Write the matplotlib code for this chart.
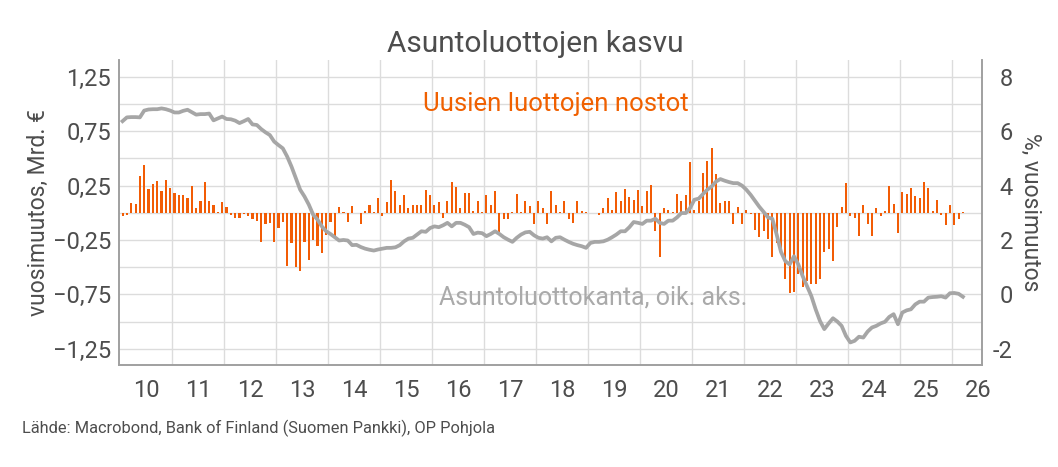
import numpy as np
import matplotlib.pyplot as plt

plt.rcParams['font.family'] = ['Roboto', 'DejaVu Sans']

# Uusien luottojen nostot, vuosimuutos Mrd. €, kuukausittain 1/2010 ->
new_loans = [
    -0.03, -0.02, 0.09, 0.08, 0.34, 0.44, 0.22, 0.265, 0.29, 0.20, 0.30, 0.23,      # 2010
    0.18, 0.16, 0.16, 0.14, 0.25, 0.04, 0.11, 0.28, 0.11, 0.07, 0.01, 0.10,         # 2011
    0.05, -0.02, -0.045, -0.045, -0.01, -0.03, -0.055, -0.075, -0.265, -0.105, -0.09, -0.27,  # 2012
    -0.14, -0.085, -0.49, -0.28, -0.50, -0.54, -0.27, -0.43, -0.25, -0.31, -0.37, -0.20,     # 2013
    -0.085, -0.21, 0.055, 0.01, -0.085, 0.06, -0.005, -0.105, 0.015, 0.075, 0.005, 0.14,     # 2014
    -0.03, 0.10, 0.30, 0.20, 0.075, 0.16, 0.045, 0.075, 0.075, 0.075, 0.21, 0.165,  # 2015
    0.076, 0.10, -0.045, 0.105, 0.28, 0.235, 0.045, 0.18, 0.18, 0.02, 0.11, 0.01,   # 2016
    0.16, 0.067, 0.20, -0.18, -0.055, -0.055, 0.005, 0.17, 0.005, 0.105, 0.058, -0.106,  # 2017
    0.11, 0.045, -0.10, 0.20, 0.076, 0.01, 0.11, -0.055, -0.09, 0.107, 0.02, 0.005,  # 2018
    -0.006, -0.006, -0.022, 0.04, 0.137, 0.022, 0.19, 0.107, 0.22, 0.146, 0.115, 0.21,  # 2019
    0.058, 0.20, 0.256, -0.17, -0.405, 0.043, 0.024, 0.003, 0.174, 0.107, 0.16, 0.463,  # 2020
    0.03, 0.104, 0.366, 0.48, 0.595, 0.36, 0.09, 0.11, 0.11, -0.107, 0.055, -0.10,  # 2021
    0.027, -0.015, -0.16, -0.22, -0.17, -0.24, -0.41, -0.28, -0.34, -0.61, -0.74, -0.73,  # 2022
    -0.56, -0.68, -0.625, -0.655, -0.655, -0.61, -0.36, -0.33, -0.44, -0.13, 0.05, 0.27,  # 2023
    -0.03, -0.05, -0.21, 0.076, -0.107, -0.21, 0.046, -0.027, 0.012, 0.244, 0.082, -0.19,  # 2024
    0.195, 0.177, 0.23, 0.15, 0.14, 0.28, 0.225, 0.012, 0.12, -0.02, -0.115, 0.07,  # 2025
    -0.115, -0.06, 0.003,                                                            # 2026
]

# Asuntoluottokanta, vuosimuutos %, kuukausittain 1/2010 ->
stock_growth = [
    6.37, 6.51, 6.52, 6.52, 6.51, 6.76, 6.80, 6.81, 6.81, 6.84, 6.81, 6.76,   # 2010
    6.69, 6.69, 6.75, 6.79, 6.70, 6.61, 6.63, 6.63, 6.65, 6.40, 6.47, 6.54,   # 2011
    6.45, 6.44, 6.39, 6.30, 6.37, 6.45, 6.25, 6.23, 6.08, 5.96, 5.86, 5.62,   # 2012
    5.49, 5.37, 5.07, 4.70, 4.27, 3.85, 3.60, 3.30, 2.93, 2.75, 2.50, 2.32,   # 2013
    2.22, 2.10, 1.98, 2.00, 1.98, 1.81, 1.82, 1.74, 1.68, 1.64, 1.61, 1.65,   # 2014
    1.68, 1.71, 1.71, 1.73, 1.81, 1.95, 2.05, 2.08, 2.20, 2.32, 2.30, 2.44,   # 2015
    2.50, 2.47, 2.54, 2.63, 2.50, 2.63, 2.63, 2.56, 2.47, 2.22, 2.27, 2.25,   # 2016
    2.14, 2.22, 2.32, 2.22, 2.10, 2.01, 1.93, 2.08, 2.20, 2.28, 2.30, 2.17,   # 2017
    2.08, 2.05, 2.10, 1.95, 2.08, 2.10, 2.01, 1.93, 1.86, 1.81, 1.77, 1.71,   # 2018
    1.89, 1.93, 1.93, 1.95, 2.01, 2.10, 2.20, 2.32, 2.32, 2.47, 2.66, 2.63,   # 2019
    2.59, 2.71, 2.71, 2.78, 2.63, 2.59, 2.71, 2.71, 2.83, 2.99, 2.99, 3.17,   # 2020
    3.48, 3.52, 3.69, 3.85, 3.97, 4.15, 4.24, 4.18, 4.13, 4.09, 4.09, 4.00,   # 2021
    3.85, 3.66, 3.44, 3.22, 3.03, 2.83, 2.78, 2.20, 1.56, 1.22, 1.10, 1.40,   # 2022
    1.10, 0.67, 0.31, -0.06, -0.55, -0.98, -1.28, -1.07, -0.88, -1.00, -1.16, -1.53,  # 2023
    -1.77, -1.71, -1.56, -1.59, -1.37, -1.22, -1.16, -1.07, -1.01, -0.83, -0.73, -1.10,  # 2024
    -0.67, -0.59, -0.55, -0.37, -0.27, -0.27, -0.12, -0.10, -0.09, -0.07, -0.12, 0.04,  # 2025
    0.05, 0.02, -0.09,                                                                 # 2026
]

years = list(range(2010, 2027))
year_labels = [str(y)[2:] for y in years]
left_ticks = [1.25, 0.75, 0.25, -0.25, -0.75, -1.25]
left_labels = ['1,25', '0,75', '0,25', '\u22120,25', '\u22120,75', '\u22121,25']
right_ticks = [8, 6, 4, 2, 0, -2]
right_labels = ['8', '6', '4', '2', '0', '-2']

orange = '#f25c05'
grey_line = '#a6a6a6'
text_col = '#4d4d4d'
grid_col = '#dcdcdc'
spine_col = '#a0a0a0'

x_bar = 2010 + (np.arange(len(new_loans)) + 0.5) / 12
x_line = 2010 + (np.arange(len(stock_growth)) + 0.5) / 12

fig = plt.figure(figsize=(10.58, 4.67), dpi=100)
ax = fig.add_axes([0.1128, 0.2184, 0.8156, 0.6531])
ax2 = ax.twinx()

ax.set_xlim(2009.98, 2026.58)
ylo, yhi = -1.40, 1.405
ax.set_ylim(ylo, yhi)
ax2.set_ylim((ylo + 0.75) * 4, (yhi + 0.75) * 4)

# grid
for g in np.arange(-1.25, 1.26, 0.25):
    ax.axhline(g, color=grid_col, lw=1, zorder=0)
for yr in years[1:]:
    ax.axvline(yr, color=grid_col, lw=1, zorder=0)

ax.bar(x_bar, new_loans, width=0.48 / 12, color=orange, zorder=2, linewidth=0)
ax2.plot(x_line, stock_growth, color=grey_line, lw=2.7, solid_joinstyle='round', zorder=3)

# x axis: labels at mid-year
ax.set_xticks([y + 0.5 for y in years])
ax.set_xticklabels(year_labels)
ax.tick_params(axis='x', length=0, pad=10, labelsize=17, labelcolor=text_col)

ax.set_yticks(left_ticks)
ax.set_yticklabels(left_labels)
ax.tick_params(axis='y', length=0, pad=6, labelsize=17, labelcolor=text_col)

ax2.set_yticks(right_ticks)
ax2.set_yticklabels(right_labels)
ax2.tick_params(axis='y', length=0, pad=22, labelsize=17, labelcolor=text_col)
for t in ax2.get_yticklabels():
    t.set_horizontalalignment('right')

for a in (ax, ax2):
    a.spines['top'].set_visible(False)
    for s in ('left', 'right', 'bottom'):
        a.spines[s].set_color(spine_col)
        a.spines[s].set_linewidth(1.2)

ax.text(2018.37, 1.0, 'Uusien luottojen nostot', color='#f06000', fontsize=18.5,
        ha='center', va='center')
ax.text(2019.1, -0.78, 'Asuntoluottokanta, oik. aks.', color='#aaaaaa', fontsize=18,
        ha='center', va='center')

fig.text(0.506, 0.906, 'Asuntoluottojen kasvu', fontsize=21.5, color=text_col,
         ha='center', va='center')
fig.text(38 / 1058, 1 - 213 / 467, 'vuosimuutos, Mrd. \u20ac', fontsize=16.5, color=text_col,
         rotation=90, ha='center', va='center')
fig.text(1031 / 1058, 1 - 212 / 467, '%, vuosimuutos', fontsize=16.5, color=text_col,
         rotation=-90, ha='center', va='center')
fig.text(22 / 1058, 1 - 428 / 467, 'Lähde: Macrobond, Bank of Finland (Suomen Pankki), OP Pohjola',
         fontsize=11.8, color=text_col, ha='left', va='center')

fig.savefig('out.png', dpi=100)
